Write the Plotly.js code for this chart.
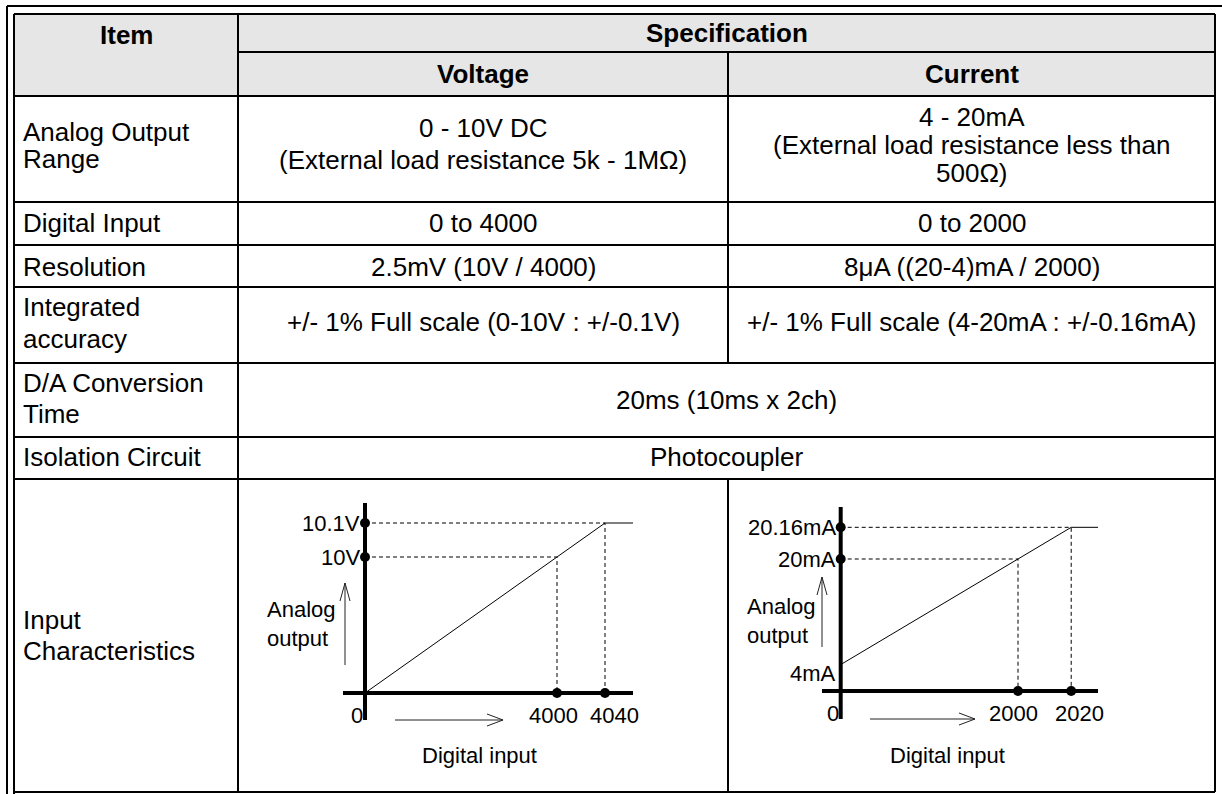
<!DOCTYPE html>
<html><head><meta charset="utf-8">
<script src="https://cdn.plot.ly/plotly-3.0.1.min.js"></script>
<style>html,body{margin:0;padding:0;background:#fff}#chart{width:1222px;height:794px}</style>
</head><body><div id="chart"></div>
<script>
// ---------------- data ----------------
const headerItem = 'Item';
const headerSpec = 'Specification';
const headerCols = ['Voltage', 'Current'];
const itemNames = [['Analog Output', 'Range'], ['Digital Input'], ['Resolution'], ['Integrated', 'accuracy'],
  ['D/A Conversion', 'Time'], ['Isolation Circuit'], ['Input', 'Characteristics']];
const voltageSpec = [['0 - 10V DC', '(External load resistance 5k - 1MΩ)'], ['0 to 4000'],
  ['2.5mV (10V / 4000)'], ['+/- 1% Full scale (0-10V : +/-0.1V)']];
const currentSpec = [['4 - 20mA', '(External load resistance less than', '500Ω)'], ['0 to 2000'],
  ['8μA ((20-4)mA / 2000)'], ['+/- 1% Full scale (4-20mA : +/-0.16mA)']];
const sharedSpec = [['20ms (10ms x 2ch)'], ['Photocoupler']];

const voltDigital = [0, 4000, 4040];
const voltAnalog = [0, 10, 10.1];
const voltXLabels = ['0', '4000', '4040'];
const voltYLabels = ['', '10V', '10.1V'];
const currDigital = [0, 2000, 2020];
const currAnalog = [4, 20, 20.16];
const currXLabels = ['0', '2000', '2020'];
const currYLabels = ['4mA', '20mA', '20.16mA'];
const yTitleLines = ['Analog', 'output'];
const xTitle = 'Digital input';

// ---------------- geometry / style ----------------
const W = 1222, H = 794;
const X = v => v / W, Y = v => 1 - v / H;
const BODY = 'Liberation Sans, Arial, sans-serif';
const FS = 26;
const col = {outer: 7, left: 14, c1: 238, c2: 728, right: 1215};
const headTop = 14, headMid = 52, headBot = 96;
const rowY = [96, 202, 245, 287, 363, 437, 479, 792];
const itemLineY = [[132, 159], [223], [267], [307, 339], [383, 414], [457], [620, 651]];
const voltLineY = [[128, 160], [223], [267], [322]];
const currLineY = [[117, 145, 173], [223], [267], [322]];
const sharedLineY = [[400], [457]];

const shapes = [];
const annotations = [];
const line = (x0, y0, x1, y1, w, c) => shapes.push({type: 'line', xref: 'paper', yref: 'paper',
  x0: X(x0), y0: Y(y0), x1: X(x1), y1: Y(y1), line: {color: c || '#000', width: w || 2}});
const text = (t, x, y, anchor, opt) => annotations.push(Object.assign({xref: 'paper', yref: 'paper',
  x: X(x), y: Y(y), text: t, showarrow: false, xanchor: anchor || 'center', yanchor: 'middle',
  font: {family: BODY, size: FS, color: '#000'}}, opt || {}));

// header fill
shapes.push({type: 'rect', xref: 'paper', yref: 'paper', x0: X(col.left), x1: X(col.right),
  y0: Y(headBot), y1: Y(headTop), fillcolor: '#e6e6e6', line: {width: 0}, layer: 'below'});

// frame & grid
line(col.outer, 6, W, 6);
line(col.outer, 6, col.outer, H);
line(col.left, headTop, col.right, headTop);
line(col.c1, headMid, col.right, headMid);
rowY.forEach(y => line(col.left, y, col.right, y));
line(col.left, headTop, col.left, H);
line(col.c1, headTop, col.c1, rowY[7]);
line(col.right, headTop, col.right, rowY[7]);
line(col.c2, headMid, col.c2, rowY[4]);
line(col.c2, rowY[6], col.c2, rowY[7]);

// header text
const bold = {font: {family: BODY, size: FS, color: '#000', weight: 'bold'}};
text('<b>' + headerItem + '</b>', (col.left + col.c1) / 2, 35, 'center', bold);
text('<b>' + headerSpec + '</b>', (col.c1 + col.right) / 2, 33, 'center', bold);
text('<b>' + headerCols[0] + '</b>', (col.c1 + col.c2) / 2, 74, 'center', bold);
text('<b>' + headerCols[1] + '</b>', (col.c2 + col.right) / 2, 74, 'center', bold);

itemNames.forEach((lines, i) => lines.forEach((t, j) => text(t, 21, itemLineY[i][j], 'left')));
voltageSpec.forEach((lines, i) => lines.forEach((t, j) => text(t, (col.c1 + col.c2) / 2, voltLineY[i][j])));
currentSpec.forEach((lines, i) => lines.forEach((t, j) => text(t, (col.c2 + col.right) / 2, currLineY[i][j])));
sharedSpec.forEach((lines, i) => lines.forEach((t, j) => text(t, (col.c1 + col.right) / 2, sharedLineY[i][j])));

// ---------------- characteristic diagrams ----------------
// schematic scale: linear up to full scale, over-range exaggerated by `zoom`
const schem = (v, fs, zoom) => v <= fs ? v : fs + (v - fs) * zoom;

const charts = [
  {xa: 'x', ya: 'y', digital: voltDigital, analog: voltAnalog, xl: voltXLabels, yl: voltYLabels, zoom: 25,
   box: [343, 503, 633, 720], origin: [365, 693], fsPx: [557, 557],
   xShift: [0, -4, 9], yShift: [0, 0, 0], zeroX: 357,
   title: {x: 480, y: 755}, ytitle: {x: 265, y: 624}, up: {x: 345, y0: 583, y1: 665}, right: {y: 720, x0: 395, x1: 503}},
  {xa: 'x2', ya: 'y2', digital: currDigital, analog: currAnalog, xl: currXLabels, yl: currYLabels, zoom: 30,
   box: [822, 507, 1098, 719], origin: [840.7, 691], fsPx: [1018, 559],
   xShift: [0, -5, 8], yShift: [-9, 0, 0], zeroX: 833,
   title: {x: 947, y: 755}, ytitle: {x: 745, y: 621}, up: {x: 822, y0: 577, y1: 647}, right: {y: 719, x0: 870, x1: 975}}
];

const traces = [];
const layoutAxes = {};
const lf = {family: BODY, size: 22, color: '#000'};
charts.forEach((c, k) => {
  const fsX = c.digital[1], fsY = c.analog[1];
  const ux = fsX / (c.fsPx[0] - c.origin[0]);
  const uy = fsY / (c.origin[1] - c.fsPx[1]);
  const xr = [(c.box[0] - c.origin[0]) * ux, (c.box[2] - c.origin[0]) * ux];
  const yr = [-(c.box[3] - c.origin[1]) * uy, (c.origin[1] - c.box[1]) * uy];
  const sx = v => schem(v, fsX, c.zoom), sy = v => schem(v, fsY, c.zoom);
  const axName = k === 0 ? '' : '2';
  layoutAxes['xaxis' + axName] = {domain: [X(c.box[0]), X(c.box[2])], range: xr, visible: false, fixedrange: true,
    anchor: c.ya};
  layoutAxes['yaxis' + axName] = {domain: [Y(c.box[3]), Y(c.box[1])], range: yr, visible: false, fixedrange: true,
    anchor: c.xa};

  // thick axes
  shapes.push({type: 'line', xref: c.xa, yref: c.ya, x0: xr[0], x1: xr[1], y0: 0, y1: 0, line: {color: '#000', width: 4}});
  shapes.push({type: 'line', xref: c.xa, yref: c.ya, x0: 0, x1: 0, y0: yr[0], y1: yr[1], line: {color: '#000', width: 4}});

  // dashed guides
  const gx = [], gy = [];
  [1, 2].forEach(i => {
    gx.push(0, sx(c.digital[i]), sx(c.digital[i]), null);
    gy.push(sy(c.analog[i]), sy(c.analog[i]), 0, null);
  });
  traces.push({type: 'scatter', mode: 'lines', xaxis: c.xa, yaxis: c.ya, x: gx, y: gy,
    line: {color: '#000', width: 1, dash: '4px,3px'}, hoverinfo: 'skip', cliponaxis: false});

  // characteristic line (saturates beyond the over-range point)
  traces.push({type: 'scatter', mode: 'lines', xaxis: c.xa, yaxis: c.ya,
    x: c.digital.map(sx).concat([xr[1]]), y: c.analog.map(sy).concat([sy(c.analog[2])]),
    line: {color: '#000', width: 1}, hoverinfo: 'skip', cliponaxis: false});

  // markers
  traces.push({type: 'scatter', mode: 'markers', xaxis: c.xa, yaxis: c.ya,
    x: [0, 0, sx(c.digital[1]), sx(c.digital[2])], y: [sy(c.analog[1]), sy(c.analog[2]), 0, 0],
    marker: {color: '#000', size: 10}, hoverinfo: 'skip', cliponaxis: false});

  // y labels
  c.yl.forEach((t, i) => { if (t) annotations.push({xref: c.xa, yref: c.ya, x: 0, y: sy(c.analog[i]), text: t,
    showarrow: false, xanchor: 'right', yanchor: 'middle', xshift: -3, yshift: c.yShift[i], font: lf}); });
  // x labels
  c.xl.forEach((t, i) => {
    if (i === 0) {
      annotations.push({xref: 'paper', yref: c.ya, x: X(c.zeroX), y: 0, text: t, showarrow: false,
        xanchor: 'center', yanchor: 'top', yshift: -8, font: lf});
    } else {
      annotations.push({xref: c.xa, yref: c.ya, x: sx(c.digital[i]), y: 0, text: t, showarrow: false,
        xanchor: 'center', yanchor: 'top', xshift: c.xShift[i], yshift: -8, font: lf});
    }
  });
  // titles
  annotations.push({xref: 'paper', yref: 'paper', x: X(c.title.x), y: Y(c.title.y), text: xTitle, showarrow: false,
    xanchor: 'center', yanchor: 'middle', font: lf});
  annotations.push({xref: 'paper', yref: 'paper', x: X(c.ytitle.x), y: Y(c.ytitle.y),
    text: yTitleLines.join('<br>'), showarrow: false, xanchor: 'left', yanchor: 'middle', align: 'left', font: lf});

  // direction arrows
  const u = c.up, r = c.right;
  const path = pts => pts.map(p => (p[2] ? 'M' : 'L') + X(p[0]) + ',' + Y(p[1])).join(' ');
  shapes.push({type: 'path', xref: 'paper', yref: 'paper', line: {color: '#222', width: 1},
    path: path([[u.x, u.y1, 1], [u.x, u.y0], [u.x - 5, u.y0 + 18, 1], [u.x, u.y0], [u.x + 5, u.y0 + 18]])});
  shapes.push({type: 'path', xref: 'paper', yref: 'paper', line: {color: '#222', width: 1},
    path: path([[r.x0, r.y, 1], [r.x1, r.y], [r.x1 - 16, r.y - 6, 1], [r.x1, r.y], [r.x1 - 16, r.y + 6]])});
});

const layout = Object.assign({
  width: W, height: H, margin: {l: 0, r: 0, t: 0, b: 0}, paper_bgcolor: '#fff', plot_bgcolor: 'rgba(0,0,0,0)',
  showlegend: false, font: {family: BODY, size: FS, color: '#000'}, shapes: shapes, annotations: annotations
}, layoutAxes);

Plotly.newPlot('chart', traces, layout, {staticPlot: true, displayModeBar: false});
</script></body></html>
